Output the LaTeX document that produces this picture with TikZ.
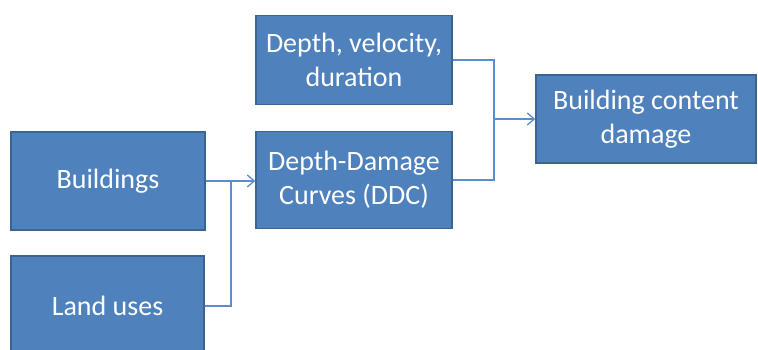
\documentclass[tikz,border=0pt]{standalone}
\usepackage{fontspec}
\setmainfont{Carlito}
\usetikzlibrary{arrows.meta}
\definecolor{boxfill}{HTML}{4F81BD}
\definecolor{boxline}{HTML}{3A6593}
\definecolor{conn}{HTML}{5B8CCB}
\tikzset{
  stagebox/.style={draw=boxline, fill=boxfill, line width=1.5pt, text=white,
    align=center, inner sep=0pt, font=\fontsize{28}{34}\selectfont},
  connector/.style={draw=conn, line width=1.3pt},
  arrowed/.style={connector, -{Straight Barb[length=7pt,width=12pt,line width=1.3pt]}}
}
\begin{document}
\begin{tikzpicture}[x=1pt,y=-1pt]
\useasboundingbox (0,0) rectangle (758,350);
\node[stagebox, minimum width=196pt, minimum height=89pt] (depth) at (354,60) {Depth, velocity,\\duration};
\node[stagebox, minimum width=196pt, minimum height=97pt] (ddc) at (354,180) {Depth-Damage\\Curves (DDC)};
\node[stagebox, minimum width=194pt, minimum height=98pt] (bld) at (108,181) {Buildings};
\node[stagebox, minimum width=193pt, minimum height=100pt] (land) at (107.5,306) {Land uses};
\node[stagebox, minimum width=220pt, minimum height=88pt] (bcd) at (646,119) {Building content\\damage};
\coordinate (j1) at (231,180);
\coordinate (j2) at (494,119);
\draw[arrowed] (bld.east) -- (ddc.west |- bld.east);
\draw[connector] (land.east) -| (j1);
\draw[connector] (depth.east) -| (j2);
\draw[connector] (ddc.east) -| (j2);
\draw[arrowed] (j2) -- (bcd.west);
\end{tikzpicture}
\end{document}
